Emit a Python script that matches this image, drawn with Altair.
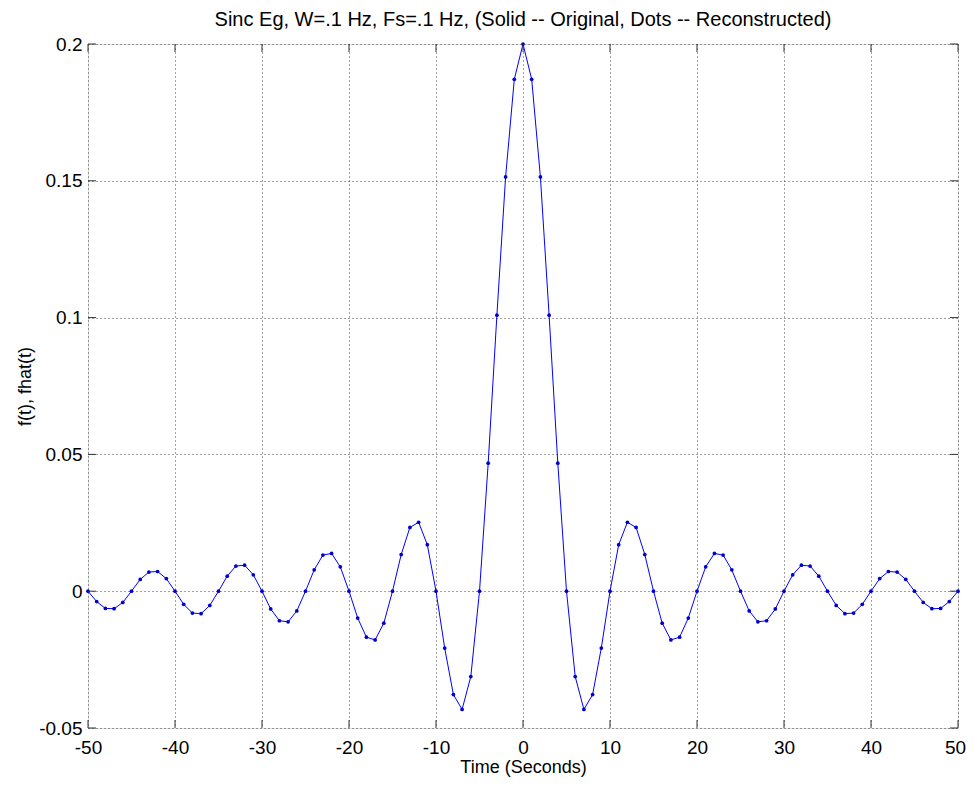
import altair as alt
import pandas as pd

# Sample times (seconds)
time_s = [-50, -49, -48, -47, -46, -45, -44, -43, -42, -41,
          -40, -39, -38, -37, -36, -35, -34, -33, -32, -31,
          -30, -29, -28, -27, -26, -25, -24, -23, -22, -21,
          -20, -19, -18, -17, -16, -15, -14, -13, -12, -11,
          -10, -9, -8, -7, -6, -5, -4, -3, -2, -1,
          0,
          1, 2, 3, 4, 5, 6, 7, 8, 9, 10,
          11, 12, 13, 14, 15, 16, 17, 18, 19, 20,
          21, 22, 23, 24, 25, 26, 27, 28, 29, 30,
          31, 32, 33, 34, 35, 36, 37, 38, 39, 40,
          41, 42, 43, 44, 45, 46, 47, 48, 49, 50]

# f(t) / fhat(t) values
f_vals = [0.0, -0.0038, -0.0063, -0.0064, -0.0041, 0.0, 0.0043, 0.0070, 0.0072, 0.0046,
          0.0, -0.0048, -0.0080, -0.0082, -0.0052, 0.0, 0.0055, 0.0092, 0.0095, 0.0060,
          0.0, -0.0065, -0.0108, -0.0112, -0.0072, 0.0, 0.0078, 0.0132, 0.0138, 0.0089,
          0.0, -0.0098, -0.0168, -0.0178, -0.0117, 0.0, 0.0134, 0.0233, 0.0252, 0.0170,
          0.0, -0.0208, -0.0378, -0.0432, -0.0312, 0.0, 0.0468, 0.1009, 0.1514, 0.1871,
          0.2,
          0.1871, 0.1514, 0.1009, 0.0468, 0.0, -0.0312, -0.0432, -0.0378, -0.0208, 0.0,
          0.0170, 0.0252, 0.0233, 0.0134, 0.0, -0.0117, -0.0178, -0.0168, -0.0098, 0.0,
          0.0089, 0.0138, 0.0132, 0.0078, 0.0, -0.0072, -0.0112, -0.0108, -0.0065, 0.0,
          0.0060, 0.0095, 0.0092, 0.0055, 0.0, -0.0052, -0.0082, -0.0080, -0.0048, 0.0,
          0.0046, 0.0072, 0.0070, 0.0043, 0.0, -0.0041, -0.0064, -0.0063, -0.0038, 0.0]

x_ticks = [-50, -40, -30, -20, -10, 0, 10, 20, 30, 40, 50]
y_ticks = [-0.05, 0, 0.05, 0.1, 0.15, 0.2]

W, H = 870, 684
FONT = "Liberation Sans"

df = pd.DataFrame({"t": time_s, "f": f_vals})
dfx = pd.DataFrame({"t": x_ticks})
dfy = pd.DataFrame({"v": y_ticks})

xscale = alt.Scale(domain=[-50, 50], nice=False, zero=False)
yscale = alt.Scale(domain=[-0.05, 0.2], nice=False, zero=False)

label_expr = "datum.value < 0 ? '-' + format(-datum.value, '~g') : format(datum.value, '~g')"

grid_axis = dict(grid=True, gridColor="#444444", gridDash=[1, 3], gridWidth=1,
                 tickSize=0, domain=False, labelFont=FONT, labelFontSize=19,
                 labelColor="black", labelFlush=False, labelOverlap=False,
                 labelExpr=label_expr,
                 titleFont=FONT, titleFontWeight="normal", titleColor="black")

line = alt.Chart(df).mark_line(color="#0000ff", strokeWidth=1).encode(
    x=alt.X("t:Q", scale=xscale,
            axis=alt.Axis(values=x_ticks, title="Time (Seconds)", labelPadding=10,
                          labelOffset={"condition": {"test": "datum.value == 50", "value": -3},
                                       "value": 0},
                          titlePadding=1, titleFontSize=18, **grid_axis)),
    y=alt.Y("f:Q", scale=yscale,
            axis=alt.Axis(values=y_ticks, title="f(t), fhat(t)", labelPadding=6,
                          titlePadding=4, titleFontSize=18, **grid_axis)),
)

pts = alt.Chart(df).mark_point(filled=True, color="#0000cc", size=14, opacity=1).encode(
    x=alt.X("t:Q", scale=xscale), y=alt.Y("f:Q", scale=yscale))

tick_color = "#333333"
xt_bottom = alt.Chart(dfx).mark_rule(color=tick_color, strokeWidth=1).encode(
    x=alt.X("t:Q", scale=xscale), y=alt.value(H), y2=alt.value(H - 8))
xt_top = alt.Chart(dfx).mark_rule(color=tick_color, strokeWidth=1).encode(
    x=alt.X("t:Q", scale=xscale), y=alt.value(0), y2=alt.value(8))
yt_left = alt.Chart(dfy).mark_rule(color=tick_color, strokeWidth=1).encode(
    y=alt.Y("v:Q", scale=yscale), x=alt.value(0), x2=alt.value(8))
yt_right = alt.Chart(dfy).mark_rule(color=tick_color, strokeWidth=1).encode(
    y=alt.Y("v:Q", scale=yscale), x=alt.value(W), x2=alt.value(W - 8))

chart = alt.layer(line, pts, xt_bottom, xt_top, yt_left, yt_right).properties(
    width=W, height=H,
    title=alt.TitleParams(
        "Sinc Eg, W=.1 Hz, Fs=.1 Hz, (Solid -- Original, Dots -- Reconstructed)",
        font=FONT, fontSize=20, fontWeight="normal", color="black",
        anchor="middle", offset=5),
    padding={"left": 80, "top": 36, "right": 9, "bottom": 49},
    autosize=alt.AutoSizeParams(type="none"),
).configure_view(stroke="#333333", strokeWidth=1).configure(background="white")

chart.save("out.html", embed_options={"renderer": "svg", "actions": False})
